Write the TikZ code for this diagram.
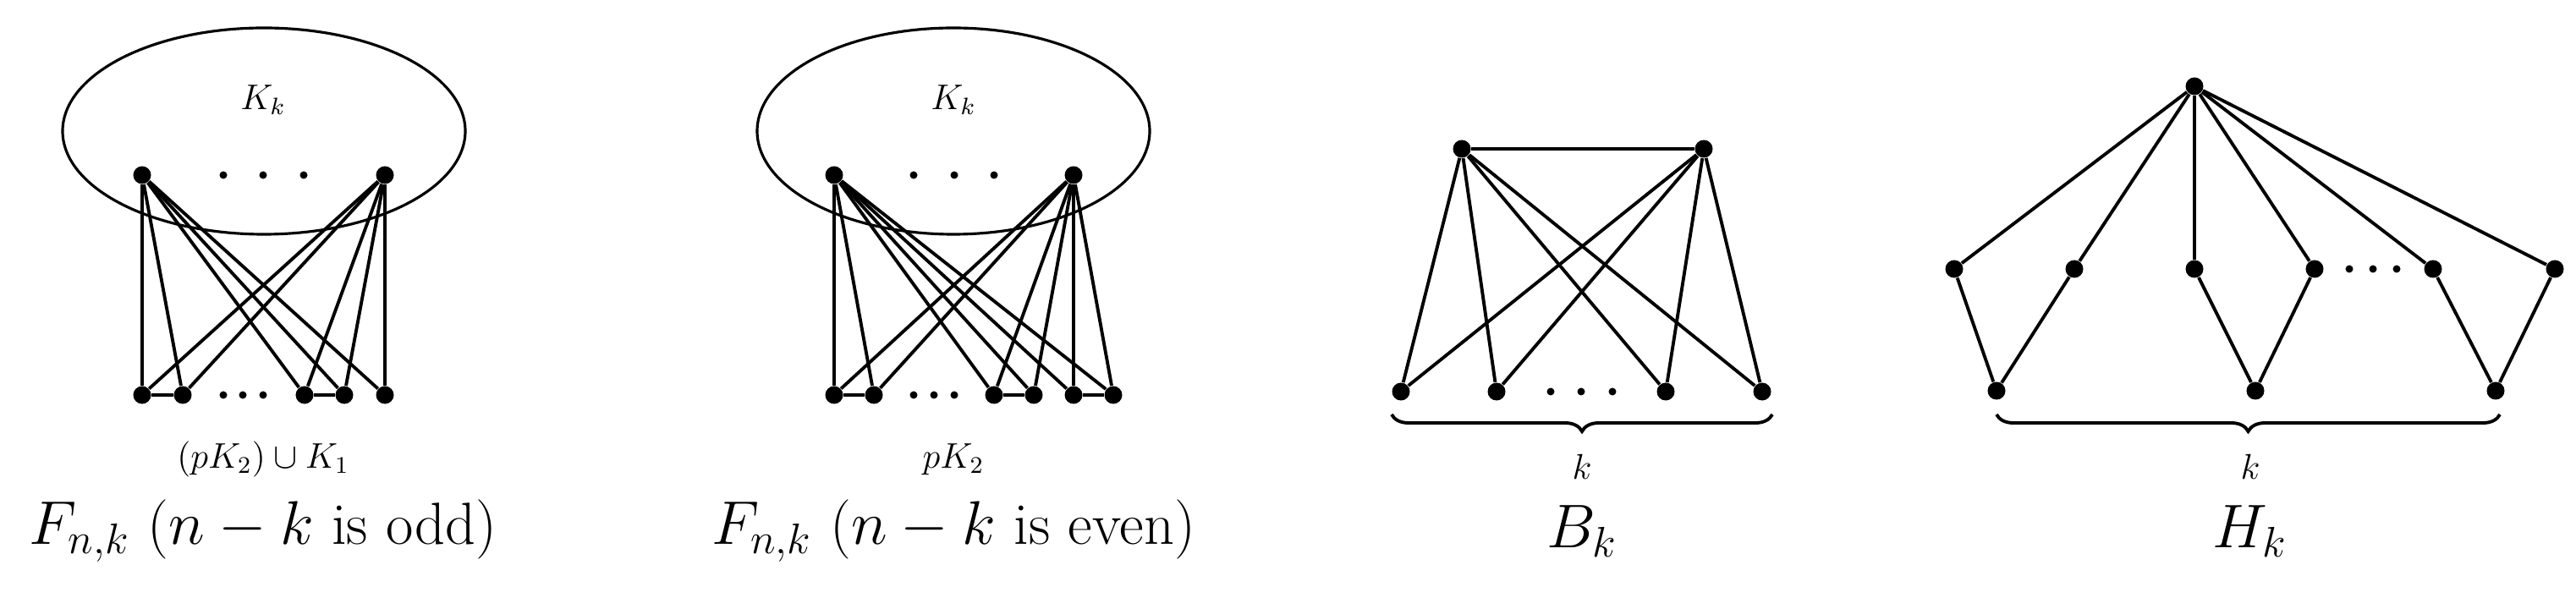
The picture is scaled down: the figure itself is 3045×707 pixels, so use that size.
\documentclass[tikz,border=0pt]{standalone}
\usetikzlibrary{decorations.pathreplacing}
\begin{document}
\begin{tikzpicture}[x=0.01cm,y=-0.01cm,
  vtx/.style={circle,fill=black,inner sep=0pt,minimum size=0.21cm},
  sdot/.style={circle,fill=black,inner sep=0pt,minimum size=0.09cm},
  edge/.style={line width=1.1pt},
  lbl/.style={font=\fontsize{12}{14}\selectfont,inner sep=0pt},
  ttl/.style={font=\fontsize{20}{24}\selectfont,inner sep=0pt},
  brc/.style={decorate,decoration={brace,mirror,amplitude=0.2cm},line width=1.1pt}]
\useasboundingbox (0,0) rectangle (3045,707);
% ---------- Graph 1 ----------
\draw[line width=0.9pt] (312,155) ellipse [x radius=238, y radius=122];
\node[lbl] (g1K) at (311,118) {$K_k$};
\node[vtx] (a1) at (168,207) {};
\node[vtx] (a2) at (455,207) {};
\node[sdot] (ad1) at (264,207) {}; \node[sdot] (ad2) at (311,207) {}; \node[sdot] (ad3) at (359,207) {};
\node[vtx] (p1) at (168,467) {};
\node[vtx] (p2) at (216,467) {};
\node[sdot] (pd1) at (264,467) {}; \node[sdot] (pd2) at (287,467) {}; \node[sdot] (pd3) at (311,467) {};
\node[vtx] (p3) at (360,467) {};
\node[vtx] (p4) at (407,467) {};
\node[vtx] (p5) at (455,467) {};
\foreach \t in {a1,a2} \foreach \b in {p1,p2,p3,p4,p5} \draw[edge] (\t) -- (\b);
\draw[edge] (p1) -- (p2); \draw[edge] (p3) -- (p4);
\node[lbl] (g1l) at (311,543) {$(pK_2)\cup K_1$};
\node[ttl] (g1t) at (311,628) {$F_{n,k}$ ($n-k$ is odd)};
% ---------- Graph 2 ----------
\draw[line width=0.9pt] (1127,155) ellipse [x radius=232, y radius=122];
\node[lbl] (g2K) at (1127,118) {$K_k$};
\node[vtx] (c1) at (986,207) {};
\node[vtx] (c2) at (1269,207) {};
\node[sdot] (cd1) at (1080,207) {}; \node[sdot] (cd2) at (1128,207) {}; \node[sdot] (cd3) at (1175,207) {};
\node[vtx] (q1) at (986,467) {};
\node[vtx] (q2) at (1033,467) {};
\node[sdot] (qd1) at (1080,467) {}; \node[sdot] (qd2) at (1104,467) {}; \node[sdot] (qd3) at (1128,467) {};
\node[vtx] (q3) at (1175,467) {};
\node[vtx] (q4) at (1222,467) {};
\node[vtx] (q5) at (1269,467) {};
\node[vtx] (q6) at (1316,467) {};
\foreach \t in {c1,c2} \foreach \b in {q1,q2,q3,q4,q5,q6} \draw[edge] (\t) -- (\b);
\draw[edge] (q1) -- (q2); \draw[edge] (q3) -- (q4); \draw[edge] (q5) -- (q6);
\node[lbl] (g2l) at (1127,543) {$pK_2$};
\node[ttl] (g2t) at (1127,628) {$F_{n,k}$ ($n-k$ is even)};
% ---------- Graph 3 ----------
\node[vtx] (t1) at (1728,176) {};
\node[vtx] (t2) at (2014,176) {};
\node[vtx] (r1) at (1656,463) {};
\node[vtx] (r2) at (1769,463) {};
\node[sdot] (rd1) at (1833,463) {}; \node[sdot] (rd2) at (1869,463) {}; \node[sdot] (rd3) at (1906,463) {};
\node[vtx] (r3) at (1969,463) {};
\node[vtx] (r4) at (2083,463) {};
\draw[edge] (t1) -- (t2);
\foreach \t in {t1,t2} \foreach \b in {r1,r2,r3,r4} \draw[edge] (\t) -- (\b);
\coordinate (br1) at (1645,490); \coordinate (br2) at (2095,490);
\draw[brc] (br1) -- (br2);
\node[lbl] (g3k) at (1870,552) {$k$};
\node[ttl] (g3t) at (1870,628) {$B_k$};
% ---------- Graph 4 ----------
\node[vtx] (h) at (2594,102) {};
\node[vtx] (m1) at (2310,318) {};
\node[vtx] (m2) at (2452,318) {};
\node[vtx] (m3) at (2594,318) {};
\node[vtx] (m4) at (2736,318) {};
\node[sdot] (md1) at (2777,318) {}; \node[sdot] (md2) at (2805,318) {}; \node[sdot] (md3) at (2833,318) {};
\node[vtx] (m5) at (2876,318) {};
\node[vtx] (m6) at (3020,318) {};
\node[vtx] (n1) at (2360,462) {};
\node[vtx] (n2) at (2666,462) {};
\node[vtx] (n3) at (2950,462) {};
\foreach \b in {m1,m2,m3,m4,m5,m6} \draw[edge] (h) -- (\b);
\draw[edge] (m1) -- (n1) -- (m2);
\draw[edge] (m3) -- (n2) -- (m4);
\draw[edge] (m5) -- (n3) -- (m6);
\coordinate (bs1) at (2360,490); \coordinate (bs2) at (2955,490);
\draw[brc] (bs1) -- (bs2);
\node[lbl] (g4k) at (2660,552) {$k$};
\node[ttl] (g4t) at (2660,628) {$H_k$};
\end{tikzpicture}
\end{document}
